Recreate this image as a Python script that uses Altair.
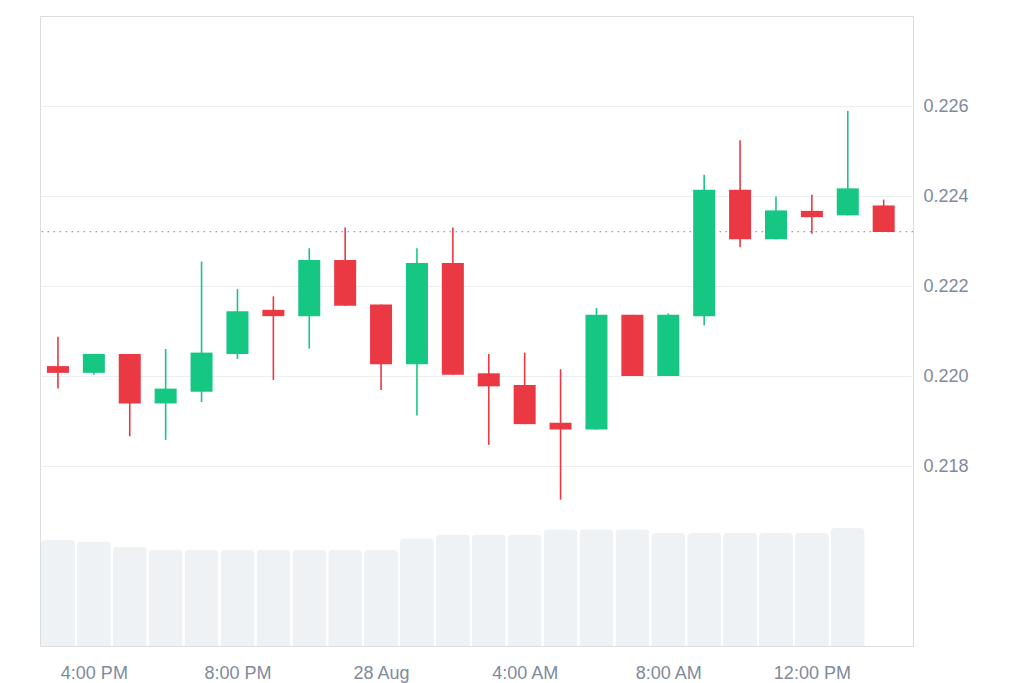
import altair as alt
import pandas as pd

# ---- data (hourly candles, 27-28 Aug) ----
times = [
    "2023-08-27T15:00:00Z", "2023-08-27T16:00:00Z", "2023-08-27T17:00:00Z", "2023-08-27T18:00:00Z",
    "2023-08-27T19:00:00Z", "2023-08-27T20:00:00Z", "2023-08-27T21:00:00Z", "2023-08-27T22:00:00Z",
    "2023-08-27T23:00:00Z", "2023-08-28T00:00:00Z", "2023-08-28T01:00:00Z", "2023-08-28T02:00:00Z",
    "2023-08-28T03:00:00Z", "2023-08-28T04:00:00Z", "2023-08-28T05:00:00Z", "2023-08-28T06:00:00Z",
    "2023-08-28T07:00:00Z", "2023-08-28T08:00:00Z", "2023-08-28T09:00:00Z", "2023-08-28T10:00:00Z",
    "2023-08-28T11:00:00Z", "2023-08-28T12:00:00Z", "2023-08-28T13:00:00Z", "2023-08-28T14:00:00Z",
]
open_ = [0.22022, 0.22007, 0.22049, 0.21939, 0.21965, 0.22049, 0.22147, 0.22133,
         0.22258, 0.22159, 0.22026, 0.22251, 0.22006, 0.21980, 0.21896, 0.21881,
         0.22136, 0.22000, 0.22133, 0.22414, 0.22304, 0.22367, 0.22357, 0.22379]
high = [0.22087, 0.22049, 0.22049, 0.22060, 0.22254, 0.22193, 0.22177, 0.22284,
        0.22330, 0.22159, 0.22284, 0.22330, 0.22049, 0.22052, 0.22015, 0.22151,
        0.22136, 0.22139, 0.22447, 0.22524, 0.22399, 0.22403, 0.22589, 0.22392]
low = [0.21972, 0.22003, 0.21866, 0.21858, 0.21942, 0.22038, 0.21991, 0.22061,
       0.22156, 0.21969, 0.21912, 0.22003, 0.21847, 0.21893, 0.21725, 0.21881,
       0.22000, 0.22000, 0.22113, 0.22286, 0.22304, 0.22316, 0.22357, 0.22320]
close = [0.22007, 0.22049, 0.21939, 0.21972, 0.22052, 0.22144, 0.22133, 0.22258,
         0.22156, 0.22026, 0.22251, 0.22003, 0.21977, 0.21893, 0.21881, 0.22136,
         0.22000, 0.22136, 0.22414, 0.22304, 0.22368, 0.22353, 0.22417, 0.22320]
volume = [5.30, 5.22, 4.97, 4.80, 4.80, 4.80, 4.80, 4.80, 4.80, 4.80, 5.39, 5.57,
          5.57, 5.57, 5.84, 5.84, 5.84, 5.65, 5.65, 5.65, 5.65, 5.65, 5.90]
current_price = [0.22321]
price_ticks = [0.218, 0.220, 0.222, 0.224, 0.226]

GREEN = "#16c784"
RED = "#ea3943"
VOL = "#eff2f5"
LABEL = "#808a9d"
GRID = "#eceff2"

candles = pd.DataFrame({"time": times, "open": open_, "high": high, "low": low, "close": close})
vol_df = pd.DataFrame({"time": times[:len(volume)], "volume": volume})
cur_df = pd.DataFrame({"price": current_price})

x_scale = alt.Scale(
    type="utc", nice=False, padding=0,
    domain=[alt.DateTime(year=2023, month=8, date=27, hours=14, minutes=30, utc=True),
            alt.DateTime(year=2023, month=8, date=28, hours=14, minutes=49, utc=True)],
)
x_axis = alt.Axis(
    title=None,
    values=[alt.DateTime(year=2023, month=8, date=27, hours=16, utc=True),
            alt.DateTime(year=2023, month=8, date=27, hours=20, utc=True),
            alt.DateTime(year=2023, month=8, date=28, hours=0, utc=True),
            alt.DateTime(year=2023, month=8, date=28, hours=4, utc=True),
            alt.DateTime(year=2023, month=8, date=28, hours=8, utc=True),
            alt.DateTime(year=2023, month=8, date=28, hours=12, utc=True)],
    labelExpr="utchours(datum.value) == 0 ? utcFormat(datum.value, '%-d %b') : utcFormat(datum.value, '%-I:%M %p')",
    grid=False, domain=False, ticks=False, tickSize=0,
    labelFont="Liberation Sans", labelFontSize=18, labelColor=LABEL, labelPadding=18,
)

y_scale = alt.Scale(domain=[0.214, 0.228], nice=False, zero=False, padding=0)
y_axis = alt.Axis(
    title=None, orient="right", values=price_ticks, format=".3f",
    grid=True, gridColor=GRID, domain=False, ticks=False, tickSize=0,
    labelFont="Liberation Sans", labelFontSize=18, labelColor=LABEL, labelPadding=10,
)

vol_bars = alt.Chart(vol_df).mark_bar(
    size=34, color=VOL, cornerRadiusTopLeft=4, cornerRadiusTopRight=4
).encode(
    x=alt.X("time:T", scale=x_scale, axis=x_axis),
    y=alt.Y("volume:Q", scale=alt.Scale(domain=[0, 31.5], nice=False, padding=0), axis=None),
)

color_enc = alt.when(alt.datum.close >= alt.datum.open).then(alt.value(GREEN)).otherwise(alt.value(RED))

base = alt.Chart(candles).encode(
    x=alt.X("time:T", scale=x_scale, axis=x_axis),
    color=color_enc,
)

cur_line = alt.Chart(cur_df).mark_rule(color="#9aa0aa", strokeDash=[1.5, 4.5], strokeWidth=1.3).encode(
    y=alt.Y("price:Q", scale=y_scale, axis=y_axis),
)

wicks = base.mark_rule(strokeWidth=1.6).encode(
    y=alt.Y("low:Q", scale=y_scale, axis=y_axis),
    y2="high:Q",
)

bodies = base.mark_bar(size=22).encode(
    y=alt.Y("open:Q", scale=y_scale, axis=y_axis),
    y2="close:Q",
)

price_layer = alt.layer(cur_line, wicks, bodies)

chart = alt.layer(vol_bars, price_layer).resolve_scale(y="independent").properties(
    width=873, height=630,
    padding={"left": 31, "top": 8, "right": 5, "bottom": 5},
).configure_view(stroke="#e9ecef", strokeWidth=1).configure(background="white")

chart.save("out.html", embed_options={"renderer": "svg", "actions": False})
